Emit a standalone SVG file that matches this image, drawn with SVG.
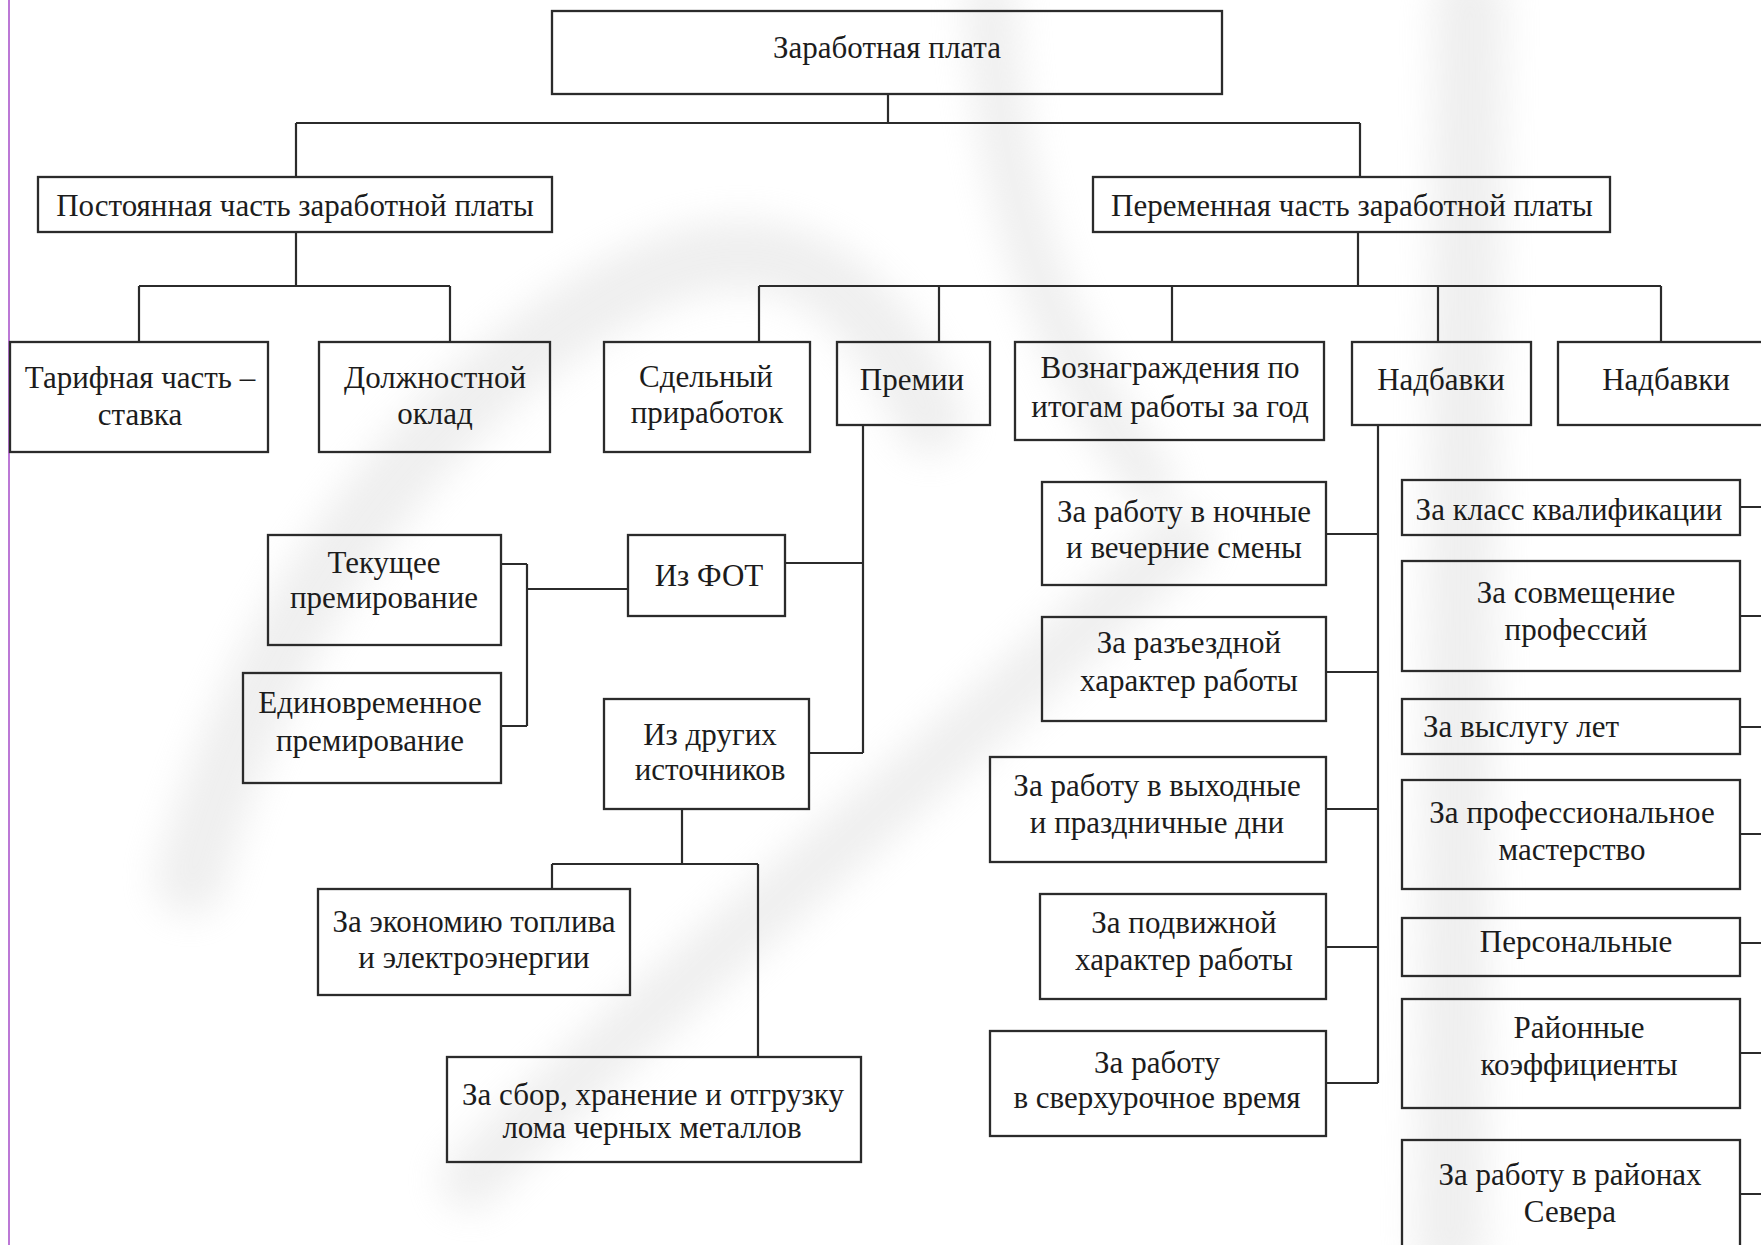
<svg xmlns="http://www.w3.org/2000/svg" width="1761" height="1245" viewBox="0 0 1761 1245">
<defs>
<filter id="blur" x="-20%" y="-20%" width="140%" height="140%"><feGaussianBlur stdDeviation="18"/></filter>
<style>
.box{fill:none;stroke:#2b2b2b;stroke-width:2.3}
.ln{fill:none;stroke:#2b2b2b;stroke-width:2.2}
text{font-family:"Liberation Serif","Times New Roman",serif;font-size:31px;fill:#1c1c1c;text-anchor:middle}
.wm{fill:none;stroke:#d9d9d9;stroke-linecap:round}
</style>
</defs>
<rect x="0" y="0" width="1761" height="1245" fill="#ffffff"/>
<g id="watermark" filter="url(#blur)" opacity="0.42">
<path class="wm" stroke-width="70" d="M190 880 C260 620 420 400 620 290 C760 215 860 260 930 420"/>
<path class="wm" stroke-width="60" d="M470 1180 C650 1000 900 800 1180 540"/>
<path class="wm" stroke-width="70" d="M1470 0 L1450 1245"/>
<path class="wm" stroke-width="50" d="M990 0 C1000 200 1050 350 1150 480"/>
</g>
<line x1="9" y1="0" x2="9" y2="1245" stroke="#a64bc8" stroke-width="1.5"/>
<g id="connectors">
<path class="ln" d="M888 94V123M296 123H1360M296 123V177M1360 123V177"/>
<path class="ln" d="M296 232V286M139 286H450M139 286V342M450 286V342"/>
<path class="ln" d="M1358 232V286M759 286H1661M759 286V342M939 286V342M1172 286V342M1438 286V342M1661 286V342"/>
<path class="ln" d="M863 425V753M785 563H863M809 753H863"/>
<path class="ln" d="M628 589H527M527 564V726M501 564H527M501 726H527"/>
<path class="ln" d="M682 809V864M552 864H758M552 864V889M758 864V1057"/>
<path class="ln" d="M1378 425V1083M1326 534H1378M1326 672H1378M1326 809H1378M1326 947H1378M1326 1083H1378"/>
<path class="ln" d="M1740 507H1761M1740 616H1761M1740 727H1761M1740 834H1761M1740 943H1761M1740 1053H1761M1740 1194H1761"/>
</g>
<g id="n-zarplata"><rect class="box" x="552" y="11" width="670" height="83"/><text x="887" y="58">Заработная плата</text></g>
<g id="n-post"><rect class="box" x="38" y="177" width="514" height="55"/><text x="295" y="216">Постоянная часть заработной платы</text></g>
<g id="n-perem"><rect class="box" x="1093" y="177" width="517" height="55"/><text x="1352" y="216">Переменная часть заработной платы</text></g>
<g id="n-tarif"><rect class="box" x="10" y="342" width="258" height="110"/><text x="140" y="388">Тарифная часть –</text><text x="140" y="425">ставка</text></g>
<g id="n-oklad"><rect class="box" x="319" y="342" width="231" height="110"/><text x="435" y="388">Должностной</text><text x="435" y="424">оклад</text></g>
<g id="n-sdel"><rect class="box" x="604" y="342" width="206" height="110"/><text x="706" y="387">Сдельный</text><text x="707" y="423">приработок</text></g>
<g id="n-premii"><rect class="box" x="837" y="342" width="153" height="83"/><text x="912" y="390">Премии</text></g>
<g id="n-voznagr"><rect class="box" x="1015" y="342" width="309" height="98"/><text x="1170" y="378">Вознаграждения по</text><text x="1170" y="417">итогам работы за год</text></g>
<g id="n-nadb1"><rect class="box" x="1352" y="342" width="179" height="83"/><text x="1441" y="390">Надбавки</text></g>
<g id="n-nadb2"><rect class="box" x="1558" y="342" width="260" height="83"/><text x="1666" y="390">Надбавки</text></g>
<g id="n-fot"><rect class="box" x="628" y="535" width="157" height="81"/><text x="709" y="586">Из ФОТ</text></g>
<g id="n-tekush"><rect class="box" x="268" y="535" width="233" height="110"/><text x="384" y="573">Текущее</text><text x="384" y="608">премирование</text></g>
<g id="n-edinovr"><rect class="box" x="243" y="673" width="258" height="110"/><text x="370" y="713">Единовременное</text><text x="370" y="751">премирование</text></g>
<g id="n-drugih"><rect class="box" x="604" y="699" width="205" height="110"/><text x="710" y="745">Из других</text><text x="710" y="780">источников</text></g>
<g id="n-ekonom"><rect class="box" x="318" y="889" width="312" height="106"/><text x="474" y="932">За экономию топлива</text><text x="474" y="968">и электроэнергии</text></g>
<g id="n-sbor"><rect class="box" x="447" y="1057" width="414" height="105"/><text x="653" y="1105">За сбор, хранение и отгрузку</text><text x="652" y="1138">лома черных металлов</text></g>
<g id="n-noch"><rect class="box" x="1042" y="482" width="284" height="103"/><text x="1184" y="522">За работу в ночные</text><text x="1184" y="558">и вечерние смены</text></g>
<g id="n-razezd"><rect class="box" x="1042" y="617" width="284" height="104"/><text x="1189" y="653">За разъездной</text><text x="1189" y="691">характер работы</text></g>
<g id="n-vyhod"><rect class="box" x="990" y="757" width="336" height="105"/><text x="1157" y="796">За работу в выходные</text><text x="1157" y="833">и праздничные дни</text></g>
<g id="n-podvizh"><rect class="box" x="1040" y="894" width="286" height="105"/><text x="1184" y="933">За подвижной</text><text x="1184" y="970">характер работы</text></g>
<g id="n-sverh"><rect class="box" x="990" y="1031" width="336" height="105"/><text x="1157" y="1073">За работу</text><text x="1157" y="1108">в сверхурочное время</text></g>
<g id="n-klass"><rect class="box" x="1402" y="480" width="338" height="55"/><text x="1569" y="520">За класс квалификации</text></g>
<g id="n-sovm"><rect class="box" x="1402" y="561" width="338" height="110"/><text x="1576" y="603">За совмещение</text><text x="1576" y="640">профессий</text></g>
<g id="n-vysl"><rect class="box" x="1402" y="699" width="338" height="55"/><text x="1423" y="737" style="text-anchor:start">За выслугу лет</text></g>
<g id="n-prof"><rect class="box" x="1402" y="780" width="338" height="109"/><text x="1572" y="823">За профессиональное</text><text x="1572" y="860">мастерство</text></g>
<g id="n-pers"><rect class="box" x="1402" y="918" width="338" height="58"/><text x="1576" y="952">Персональные</text></g>
<g id="n-raion"><rect class="box" x="1402" y="999" width="338" height="109"/><text x="1579" y="1038">Районные</text><text x="1579" y="1075">коэффициенты</text></g>
<g id="n-sever"><rect class="box" x="1402" y="1140" width="338" height="150"/><text x="1570" y="1185">За работу в районах</text><text x="1570" y="1222">Севера</text></g>
</svg>
